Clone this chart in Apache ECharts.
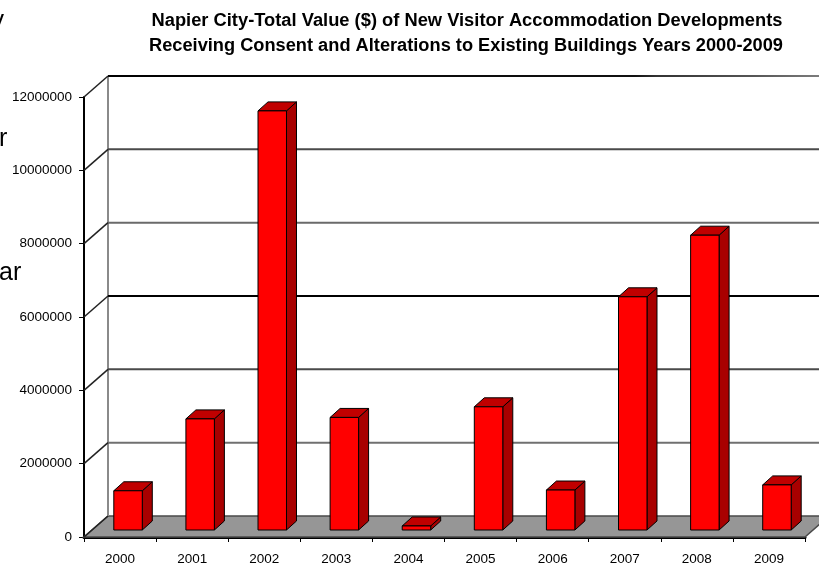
<!DOCTYPE html>
<html><head><meta charset="utf-8">
<script src="https://cdn.jsdelivr.net/npm/echarts@6/dist/echarts.min.js"></script>
<style>html,body{margin:0;padding:0;background:#fff;overflow:hidden}#c{width:819px;height:566px}</style>
</head><body><div id="c"></div>
<script>
const years = ['2000','2001','2002','2003','2004','2005','2006','2007','2008','2009'];
const values = [1070000, 3030000, 11430000, 3070000, 110000, 3360000, 1090000, 6360000, 8040000, 1230000];
const yTicks = [0, 2000000, 4000000, 6000000, 8000000, 10000000, 12000000];
const titleLines = [
  'Napier City-Total Value ($) of New Visitor Accommodation Developments',
  'Receiving Consent and Alterations to Existing Buildings Years 2000-2009'
];
const sideTexts = ['y', 'r', 'ar'];

const DX = 24, DY = -21;      // wall depth
const FDX = 8, FDY = -7;      // bar front offset
const BDX = 10, BDY = -9;     // bar depth
const gridColors = ['#000', '#707070', '#4a4a4a', '#000', '#6a6a6a', '#4a4a4a', '#000'];

const chart = echarts.init(document.getElementById('c'), null, {renderer: 'canvas'});

const ctx = document.createElement('canvas').getContext('2d');
ctx.font = 'bold 18px "Liberation Sans"';
const tW = [631, 634];
const titleGraphics = titleLines.map((t, k) => {
  const w = ctx.measureText(t).width;
  return {
    type: 'text', x: [467, 466][k], y: [21.5, 46.5][k], scaleX: tW[k] / w, scaleY: 1,
    style: {text: t, font: 'bold 18px "Liberation Sans", Arial, sans-serif', fill: '#000',
      align: 'center', verticalAlign: 'middle'}
  };
});
const sideFont = '25px "Liberation Sans", Arial, sans-serif';
const sideGraphics = [
  {type: 'text', x: 4, y: 21, style: {text: sideTexts[0], font: sideFont, fill: '#000', align: 'right', verticalAlign: 'middle'}},
  {type: 'text', x: -1, y: 139, style: {text: sideTexts[1], font: sideFont, fill: '#000', align: 'left', verticalAlign: 'middle'}},
  {type: 'text', x: -1, y: 273, style: {text: sideTexts[2], font: sideFont, fill: '#000', align: 'left', verticalAlign: 'middle'}}
];

function renderWalls(params, api) {
  const bw = api.size([1, 0])[0];
  const x0 = api.coord([0, 0])[0] - bw / 2;
  const x1 = api.coord([years.length - 1, 0])[0] + bw / 2;
  const y0 = api.coord([0, 0])[1];
  const yTop = api.coord([0, yTicks[yTicks.length - 1]])[1];
  const ch = [];
  ch.push({type: 'polygon', shape: {points: [[x0, y0], [x1, y0], [x1 + DX, y0 + DY], [x0 + DX, y0 + DY]]},
    style: {fill: '#969696', stroke: '#4a4a4a', lineWidth: 1.5}});
  ch.push({type: 'line', shape: {x1: x0 + DX, y1: y0 + DY, x2: x0 + DX, y2: yTop + DY},
    style: {stroke: '#8a8a8a', lineWidth: 2}});
  yTicks.forEach((t, k) => {
    const y = api.coord([0, t])[1];
    if (k > 0) {
      ch.push({type: 'line', shape: {x1: x0 + DX, y1: y + DY, x2: x1 + DX + 10, y2: y + DY},
        style: {stroke: k === yTicks.length - 1 ? new echarts.graphic.LinearGradient(0, 0, 1, 0, [
          {offset: 0, color: '#000'}, {offset: 0.72, color: '#111'}, {offset: 0.75, color: '#333'},
          {offset: 0.88, color: '#555'}, {offset: 1, color: '#888'}], false) : gridColors[k], lineWidth: 2}});
    }
    ch.push({type: 'line', shape: {x1: x0, y1: y, x2: x0 + DX, y2: y + DY},
      style: {stroke: '#222', lineWidth: 1.5}});
  });
  return {type: 'group', children: ch};
}

function renderBar(params, api) {
  const i = api.value(0), v = api.value(1);
  const base = api.coord([i, 0]);
  const top = api.coord([i, v]);
  const bw = api.size([1, 0])[0];
  const w = bw * 0.395;
  const fx = base[0] - w / 2 + FDX;
  const by = base[1] + FDY;
  const ty = top[1] + FDY;
  const ls = {stroke: '#000', lineWidth: 1, lineJoin: 'round'};
  return {type: 'group', children: [
    {type: 'polygon', shape: {points: [[fx + w, ty], [fx + w + BDX, ty + BDY], [fx + w + BDX, by + BDY], [fx + w, by]]},
      style: Object.assign({fill: '#a80000'}, ls)},
    {type: 'polygon', shape: {points: [[fx, ty], [fx + BDX, ty + BDY], [fx + w + BDX, ty + BDY], [fx + w, ty]]},
      style: Object.assign({fill: '#c00000'}, ls)},
    {type: 'rect', shape: {x: fx, y: ty, width: w, height: by - ty},
      style: Object.assign({fill: '#ff0000'}, ls)}
  ]};
}

chart.setOption({
  animation: false,
  backgroundColor: '#fff',
  grid: {left: 84, right: 14, top: 97, bottom: 29, containLabel: false},
  xAxis: {
    type: 'category', data: years, boundaryGap: true,
    axisLine: {show: true, lineStyle: {color: '#000', width: 3}},
    axisTick: {show: true, length: 5, lineStyle: {color: '#000', width: 1}},
    axisLabel: {color: '#000', fontSize: 13.5, fontFamily: '"Liberation Sans", Arial, sans-serif', margin: 15},
    splitLine: {show: false}
  },
  yAxis: {
    type: 'value', min: 0, max: 12000000, interval: 2000000,
    axisLine: {show: true, lineStyle: {color: '#000', width: 2}},
    axisTick: {show: true, length: 5, lineStyle: {color: '#000', width: 1}},
    axisLabel: {color: '#000', fontSize: 13.5, fontFamily: '"Liberation Sans", Arial, sans-serif', margin: 12,
      formatter: v => String(v)},
    splitLine: {show: false}
  },
  graphic: titleGraphics.concat(sideGraphics),
  series: [
    {type: 'custom', renderItem: renderWalls, data: [[0, 0]], clip: false, silent: true, z: 1},
    {type: 'custom', renderItem: renderBar, data: values.map((v, i) => [i, v]), clip: false, z: 3,
      encode: {x: 0, y: 1}}
  ]
});
</script></body></html>
